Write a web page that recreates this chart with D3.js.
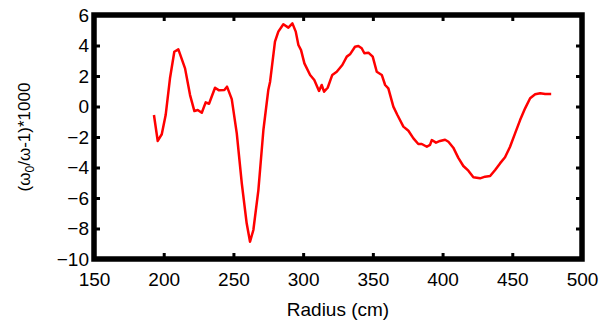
<!DOCTYPE html>
<html>
<head>
<meta charset="utf-8">
<script src="https://cdn.jsdelivr.net/npm/d3@7"></script>
<style>
  body { margin: 0; background: #fff; }
  svg text { font-family: "Liberation Sans", Arial, Helvetica, sans-serif; fill: #000; }
</style>
</head>
<body>
<svg id="chart" width="606" height="326"></svg>
<script>
// radius (cm) and (w0/w-1)*1000
var radius = [193.0, 195.7, 198.6, 201.4, 204.5, 207.6, 210.5, 215.3, 218.9, 222.0, 224.4, 227.3, 230.1, 232.5,
  236.8, 239.7, 243.5, 245.4, 248.8, 252.4, 256.0, 259.5, 261.9, 264.3, 267.9, 271.5, 275.0, 276.3, 279.8,
  282.2, 285.8, 289.4, 292.3, 294.7, 296.6, 298.5, 300.9, 305.0, 308.0, 311.4, 313.3, 315.0, 317.6, 320.9,
  324.1, 328.1, 331.3, 333.6, 337.2, 339.6, 342.0, 343.9, 346.8, 349.9, 352.8, 356.4, 358.8, 361.1, 364.7,
  367.6, 371.9, 375.5, 379.1, 382.6, 385.1, 388.7, 391.0, 392.3, 395.3, 398.2, 401.8, 404.2, 407.7, 411.3,
  414.9, 418.5, 422.1, 426.9, 430.5, 434.1, 437.7, 441.2, 444.8, 448.4, 452.0, 455.6, 459.2, 462.8, 466.4,
  470.0, 473.6, 477.9];
var ratio = [-0.56, -2.26, -1.82, -0.56, 1.85, 3.59, 3.75, 2.50, 0.75, -0.30, -0.23, -0.41, 0.27, 0.18,
  1.23, 1.06, 1.08, 1.30, 0.48, -1.76, -5.04, -7.66, -8.87, -8.10, -5.48, -1.54, 1.08, 1.63, 4.25,
  4.91, 5.39, 5.17, 5.45, 4.91, 4.03, 3.70, 2.83, 2.07, 1.74, 1.02, 1.41, 0.97, 1.23, 2.07,
  2.28, 2.72, 3.27, 3.42, 3.92, 3.97, 3.82, 3.49, 3.53, 3.27, 2.28, 2.07, 1.41, 1.19, -0.01,
  -0.56, -1.32, -1.59, -2.09, -2.46, -2.46, -2.64, -2.52, -2.20, -2.37, -2.26, -2.18, -2.31, -2.70, -3.37,
  -3.90, -4.21, -4.64, -4.71, -4.60, -4.56, -4.16, -3.73, -3.33, -2.64, -1.76, -0.89, -0.12, 0.54, 0.80,
  0.87, 0.82, 0.82];
var xTicks = [150, 200, 250, 300, 350, 400, 450, 500];
var yTicks = [-10, -8, -6, -4, -2, 0, 2, 4, 6];

var svg = d3.select("#chart"),
  margin = { left: 94, right: 24, top: 15, bottom: 67 },
  width = 606 - margin.left - margin.right,
  height = 326 - margin.top - margin.bottom;

var g = svg.append("g").attr("transform", "translate(" + margin.left + "," + margin.top + ")");

var x = d3.scaleLinear().domain([150, 500]).range([0, width]);
var y = d3.scaleLinear().domain([-10, 6]).range([height, 0]);

// axes with inward ticks on every side
function styleAxis(sel) {
  sel.select(".domain").remove();
  sel.selectAll(".tick line").attr("stroke", "#000").attr("stroke-width", 3);
  sel.selectAll(".tick text").style("font-size", "19px");
}

g.append("g").attr("transform", "translate(0," + height + ")")
  .call(d3.axisBottom(x).tickValues(xTicks).tickSizeInner(-6).tickSizeOuter(0).tickPadding(14))
  .call(styleAxis);
g.append("g")
  .call(d3.axisTop(x).tickValues(xTicks).tickSizeInner(-6).tickSizeOuter(0).tickFormat(""))
  .call(styleAxis);
g.append("g")
  .call(d3.axisLeft(y).tickValues(yTicks).tickSizeInner(-6).tickSizeOuter(0).tickPadding(5))
  .call(styleAxis);
g.append("g").attr("transform", "translate(" + width + ",0)")
  .call(d3.axisRight(y).tickValues(yTicks).tickSizeInner(-6).tickSizeOuter(0).tickFormat(""))
  .call(styleAxis);

// thick frame
g.append("rect")
  .attr("width", width).attr("height", height)
  .attr("fill", "none").attr("stroke", "#000").attr("stroke-width", 5.5);

var line = d3.line()
  .x(function (d, i) { return x(radius[i]); })
  .y(function (d) { return y(d); });

g.append("path")
  .datum(ratio)
  .attr("fill", "none")
  .attr("stroke", "#ff0000")
  .attr("stroke-width", 2.5)
  .attr("stroke-linejoin", "round")
  .attr("d", line);

// axis titles
svg.append("text")
  .attr("x", margin.left + width / 2).attr("y", 316)
  .attr("text-anchor", "middle")
  .style("font-size", "19px")
  .text("Radius (cm)");

var yl = svg.append("text")
  .attr("transform", "translate(30," + (margin.top + height / 2) + ") rotate(-90)")
  .attr("text-anchor", "middle")
  .style("font-size", "17px");
yl.append("tspan").text("(\u03c9");
yl.append("tspan").attr("dy", 4).style("font-size", "12px").text("0");
yl.append("tspan").attr("dy", -4).text("/\u03c9-1)*1000");
</script>
</body>
</html>
